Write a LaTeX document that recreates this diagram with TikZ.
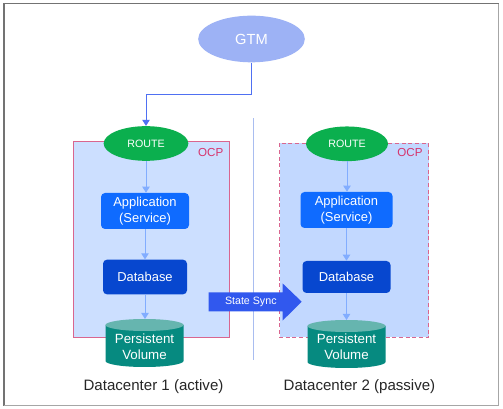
\documentclass[tikz,border=0pt]{standalone}
\usepackage{fontspec}
\setmainfont{Liberation Sans}
\usetikzlibrary{arrows.meta,shapes.geometric,shapes.arrows}
\definecolor{ocpfill}{HTML}{CCDFFF}
\definecolor{ocpfillb}{HTML}{C2D8FF}
\definecolor{ocpline}{HTML}{D9668F}
\definecolor{ocptext}{HTML}{D6336C}
\definecolor{gtmblue}{HTML}{9DB2F5}
\definecolor{routegreen}{HTML}{0BAF4E}
\definecolor{appblue}{HTML}{0F6BFF}
\definecolor{dbblue}{HTML}{0747CF}
\definecolor{teal1}{HTML}{068A80}
\definecolor{teal2}{HTML}{66B5AF}
\definecolor{flow}{HTML}{82ADFF}
\definecolor{gtmline}{HTML}{4F70F2}
\definecolor{syncblue}{HTML}{3158EE}
\definecolor{sep}{HTML}{A9BDF0}
\tikzset{
  x=0.75pt,y=-0.75pt,
  every node/.style={text=white,align=center,inner sep=0pt},
  flowline/.style={draw=flow,line width=0.75pt,-{Triangle[length=4.5pt,width=5.5pt]}},
  routeshape/.style={ellipse,fill=routegreen,minimum height=26pt,font=\fontsize{8pt}{9pt}\selectfont},
  appshape/.style={rounded corners=3pt,fill=appblue,minimum height=27pt,font=\fontsize{9.7pt}{12pt}\selectfont},
  dbshape/.style={rounded corners=3pt,fill=dbblue,font=\fontsize{9.7pt}{11pt}\selectfont},
  ocplabel/.style={text=ocptext,font=\fontsize{8.7pt}{10pt}\selectfont},
  dclabel/.style={text=black!85,font=\fontsize{11.3pt}{13pt}\selectfont},
  pvtext/.style={text=white,font=\fontsize{10pt}{12pt}\selectfont},
}
\newcommand{\pvcyl}[2]{%
  \fill[teal1] (#1-39,#2) -- (#1-39,#2+36) arc[x radius=39,y radius=6,start angle=180,end angle=0] -- (#1+39,#2) -- cycle;
  \fill[teal2] (#1,#2) ellipse[x radius=39,y radius=6];
}
\begin{document}
\begin{tikzpicture}
\useasboundingbox (0,0) rectangle (503,409);
\fill[white] (0,0) rectangle (503,409);
\draw[black!55,line width=0.9pt] (4,405.5) -- (4,3.7) -- (498.7,3.7);
\draw[black!35,line width=0.9pt] (498.7,3.7) -- (498.7,405.7) -- (4,405.7);
% OCP boxes
\draw[ocpline,fill=ocpfill,line width=0.75pt] (73.5,141.5) rectangle (229.5,337.5);
\draw[ocpline,fill=ocpfillb,line width=0.8pt,dash pattern=on 3pt off 2pt] (279.5,143.5) rectangle (428.5,337.5);
% separator
\coordinate (septop) at (253.5,118.5);
\coordinate (sepbot) at (253.5,360);
\draw[sep,line width=0.75pt] (septop) -- (sepbot);
% nodes
\node[ellipse,fill=gtmblue,minimum width=80pt,minimum height=35pt,font=\fontsize{11pt}{12pt}\selectfont] (gtm) at (251.5,39) {GTM};
\node[routeshape,minimum width=63.5pt] (r1) at (146,143.5) {ROUTE};
\node[routeshape,minimum width=61.5pt] (r2) at (347,143.8) {ROUTE};
\node[appshape,minimum width=66pt] (a1) at (145,211) {Application\\(Service)};
\node[appshape,minimum width=69pt] (a2) at (346.5,210) {Application\\(Service)};
\node[dbshape,minimum width=63pt,minimum height=26pt] (d1) at (145,277) {Database};
\node[dbshape,minimum width=66pt,minimum height=24pt] (d2) at (346.5,277) {Database};
\pvcyl{144.5}{325}
\pvcyl{346.5}{326}
\coordinate (p1) at (144.5,319);
\coordinate (p2) at (346.5,320);
\node[pvtext] (pt1) at (144.5,347) {Persistent\\Volume};
\node[pvtext] (pt2) at (346.5,347) {Persistent\\Volume};
\node[ocplabel] (o1) at (210.7,153) {OCP};
\node[ocplabel] (o2) at (410,153) {OCP};
\node[dclabel] (l1) at (153.5,387) {Datacenter 1 (active)};
\node[dclabel] (l2) at (359.5,387) {Datacenter 2 (passive)};
% connectors
\draw[gtmline,line width=0.75pt,-{Triangle[length=4.5pt,width=5.5pt]}] (gtm.south) -- (251.5,94.5) -- (146,94.5) -- (r1.north);
\draw[flowline] (r1.south) -- (r1.south |- a1.north);
\draw[flowline] (a1.south) -- (a1.south |- d1.north);
\draw[flowline] (d1.south) -- (d1.south |- p1);
\draw[flowline] (r2.south) -- (r2.south |- a2.north);
\draw[flowline] (a2.south) -- (d2.north);
\draw[flowline] (d2.south) -- (p2);
% sync arrow
\fill[syncblue] (208.7,292.5) -- (282.5,292.5) -- (282.5,283.3) -- (301.7,301.7) -- (282.5,320.7) -- (282.5,311.5) -- (208.7,311.5) -- cycle;
\node[font=\fontsize{8pt}{10pt}\selectfont] (sync) at (250.8,302) {State Sync};
\end{tikzpicture}
\end{document}
